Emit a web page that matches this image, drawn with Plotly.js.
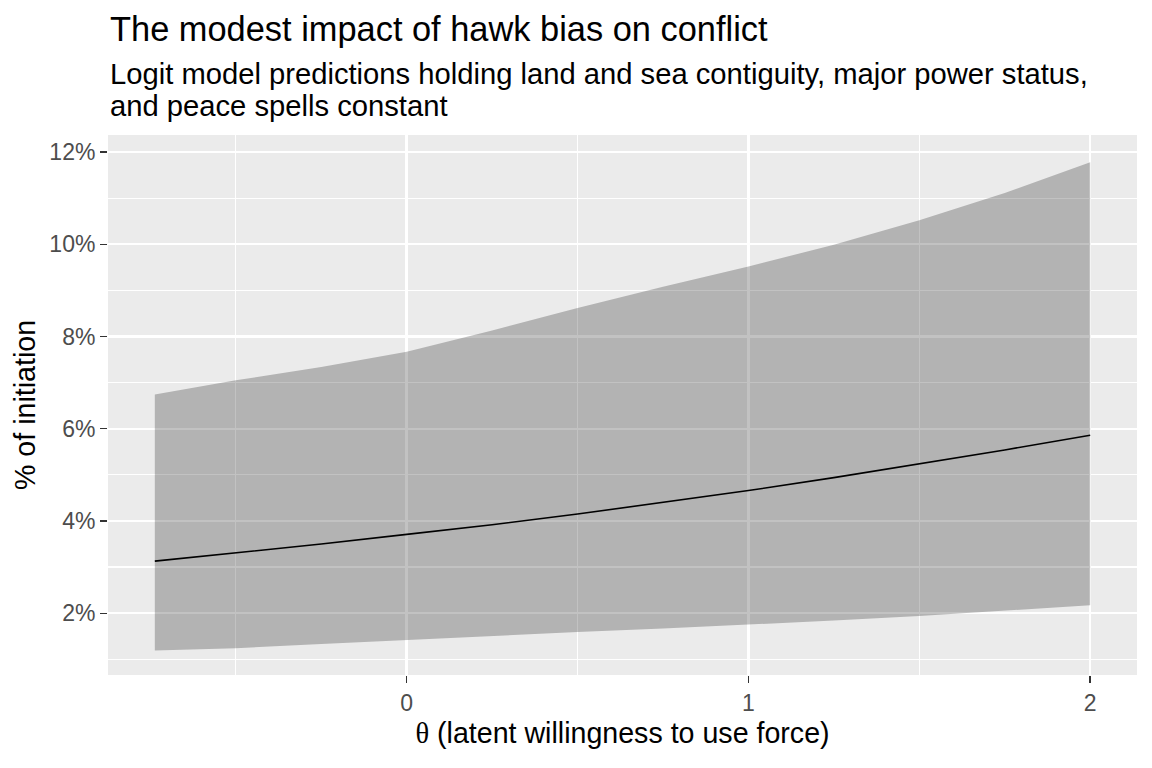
<!DOCTYPE html>
<html>
<head>
<meta charset="utf-8">
<script src="https://cdn.plot.ly/plotly-3.0.1.min.js"></script>
<style>
  html, body { margin: 0; padding: 0; background: #ffffff; }
  #chart { width: 1152px; height: 768px; }
</style>
</head>
<body>
<div id="chart"></div>
<script>
// theta values at which the predictions were read
const theta = [-0.737, -0.5, -0.25, 0, 0.25, 0.5, 0.75, 1, 1.25, 1.5, 1.75, 2];

// predicted % of initiation and its interval (in percent)
const predMean  = [3.13, 3.31, 3.50, 3.71, 3.92, 4.15, 4.40, 4.66, 4.94, 5.24, 5.54, 5.86];
const predLower = [1.19, 1.24, 1.33, 1.42, 1.50, 1.59, 1.67, 1.75, 1.84, 1.94, 2.05, 2.17];
const predUpper = [6.74, 7.05, 7.34, 7.67, 8.13, 8.62, 9.08, 9.52, 9.99, 10.52, 11.11, 11.78];

const yTicks = [2, 4, 6, 8, 10, 12];
const yLabels = ['2%', '4%', '6%', '8%', '10%', '12%'];
const xTicks = [0, 1, 2];
const xLabels = ['0', '1', '2'];

const font = 'Liberation Sans, Arial, sans-serif';

var lowerTrace = {
  x: theta,
  y: predLower,
  type: 'scatter',
  mode: 'lines',
  line: {width: 0, color: 'rgba(0,0,0,0)'},
  hoverinfo: 'skip',
  showlegend: false
};

var upperTrace = {
  x: theta,
  y: predUpper,
  type: 'scatter',
  mode: 'lines',
  fill: 'tonexty',
  fillcolor: 'rgba(0,0,0,0.24)',
  line: {width: 0, color: 'rgba(0,0,0,0)'},
  hoverinfo: 'skip',
  showlegend: false
};

var meanTrace = {
  x: theta,
  y: predMean,
  type: 'scatter',
  mode: 'lines',
  line: {width: 1.6, color: '#000000'},
  showlegend: false
};

var data = [lowerTrace, upperTrace, meanTrace];

// pixel -> paper helper for the panel (top 135, bottom 675)
function py(px) { return (675 - px) / 540; }

var layout = {
  width: 1152,
  height: 768,
  margin: {l: 108, r: 15, t: 135, b: 93},
  paper_bgcolor: '#ffffff',
  plot_bgcolor: '#EBEBEB',
  font: {family: font, color: '#000000'},
  showlegend: false,
  xaxis: {
    range: [-0.874, 2.137],
    tickmode: 'array',
    tickvals: xTicks,
    ticktext: xLabels,
    ticks: 'outside',
    ticklen: 7,
    tickwidth: 1.4,
    tickcolor: '#333333',
    tickfont: {family: font, size: 23, color: '#4D4D4D'},
    showgrid: true,
    gridcolor: '#ffffff',
    gridwidth: 2.4,
    minor: {dtick: 0.5, tick0: 0.5, showgrid: true, gridcolor: '#ffffff', gridwidth: 1.2, ticks: ''},
    zeroline: false,
    showline: false,
    title: {
      text: '<span style="font-family:Liberation Serif">\u03b8</span> (latent willingness to use force)',
      font: {family: font, size: 28.6, color: '#000000'}, standoff: 8
    }
  },
  yaxis: {
    range: [0.66, 12.37],
    tickmode: 'array',
    tickvals: yTicks,
    ticktext: yLabels,
    ticks: 'outside',
    ticklen: 7,
    tickwidth: 1.4,
    tickcolor: '#333333',
    tickfont: {family: font, size: 23, color: '#4D4D4D'},
    showgrid: true,
    gridcolor: '#ffffff',
    gridwidth: 2.4,
    minor: {dtick: 2, tick0: 1, showgrid: true, gridcolor: '#ffffff', gridwidth: 1.2, ticks: ''},
    zeroline: false,
    showline: false,
    title: {text: '% of initiation', font: {family: font, size: 28.6, color: '#000000'}, standoff: 5}
  },
  annotations: [
    {text: 'The modest impact of hawk bias on conflict', xref: 'paper', yref: 'paper',
     x: 0, y: py(29), xanchor: 'left', yanchor: 'middle', showarrow: false,
     font: {family: font, size: 34.4, color: '#000000'}},
    {text: 'Logit model predictions holding land and sea contiguity, major power status,', xref: 'paper', yref: 'paper',
     x: 0, y: py(74), xanchor: 'left', yanchor: 'middle', showarrow: false,
     font: {family: font, size: 29.2, color: '#000000'}},
    {text: 'and peace spells constant', xref: 'paper', yref: 'paper',
     x: 0, y: py(106), xanchor: 'left', yanchor: 'middle', showarrow: false,
     font: {family: font, size: 29.2, color: '#000000'}}
  ]
};

Plotly.newPlot('chart', data, layout, {displayModeBar: false, staticPlot: true});
</script>
</body>
</html>
